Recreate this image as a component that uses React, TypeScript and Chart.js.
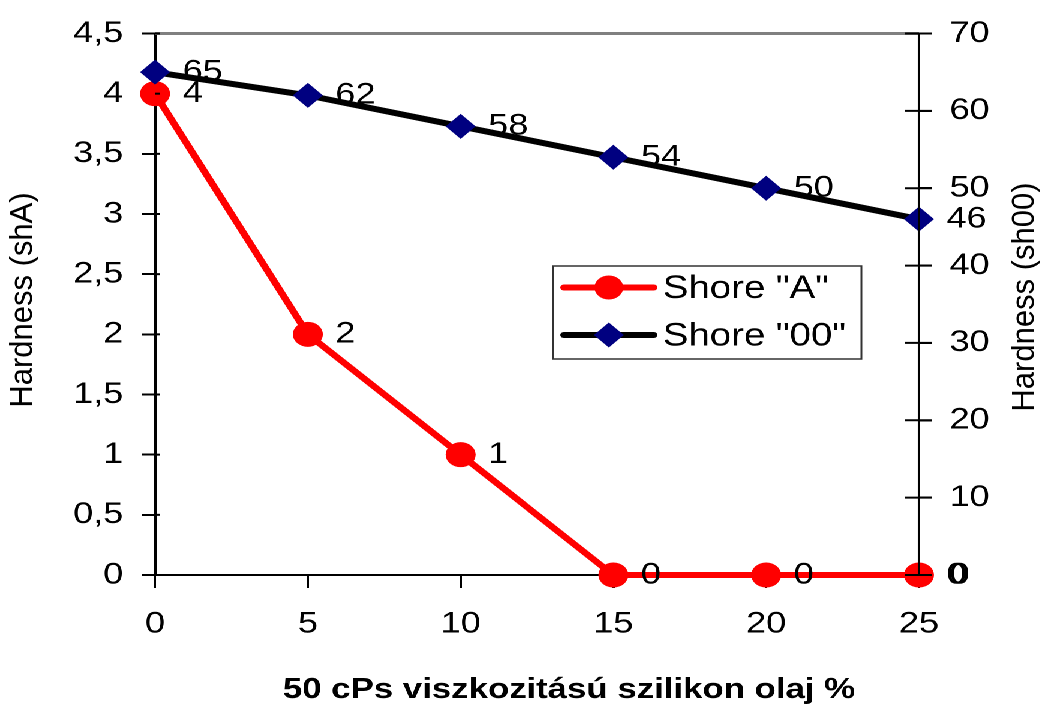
import React, { useEffect, useRef } from 'react';
import { Chart, registerables } from 'chart.js';

Chart.register(...registerables);

// ---- data ----
const xValues = [0, 5, 10, 15, 20, 25];
const shoreA = [4, 2, 1, 0, 0, 0];
const shore00 = [65, 62, 58, 54, 50, 46];
const seriesNames = ['Shore "A"', 'Shore "00"'];
const leftTitle = 'Hardness (shA)';
const rightTitle = 'Hardness (sh00)';
const xTitle = '50 cPs viszkozitású szilikon olaj %';

// ---- style ----
const FULL_W = 1051;
const BASE_W = 876;
const H = 704;
const S = FULL_W / BASE_W;
const FONT = "'Liberation Sans', Arial, Helvetica, sans-serif";
const RED = '#FF0000';
const NAVY = '#000080';

const overlayPlugin = {
  id: 'overlayPlugin',
  afterDatasetsDraw(chart: any) {
    const { ctx, chartArea: ca, scales } = chart;
    const yR = scales.yR;
    const yL = scales.yL;
    ctx.save();
    // top border
    ctx.strokeStyle = '#808080';
    ctx.lineWidth = 3;
    ctx.beginPath();
    ctx.moveTo(ca.left, ca.top);
    ctx.lineTo(ca.right, ca.top);
    ctx.stroke();
    // right axis over data
    ctx.strokeStyle = '#000';
    ctx.lineWidth = 2;
    ctx.beginPath();
    ctx.moveTo(ca.right, ca.top);
    ctx.lineTo(ca.right, ca.bottom);
    ctx.stroke();
    yR.ticks.forEach((t: any) => {
      const y = yR.getPixelForValue(t.value);
      ctx.beginPath();
      ctx.moveTo(ca.right - 11.5, y);
      ctx.lineTo(ca.right + 11, y);
      ctx.stroke();
    });
    yL.ticks.forEach((t: any) => {
      const y = yL.getPixelForValue(t.value);
      ctx.beginPath();
      ctx.moveTo(ca.left, y);
      ctx.lineTo(ca.left + 4, y);
      ctx.stroke();
    });
    // data labels
    ctx.font = `30px ${FONT}`;
    ctx.fillStyle = '#000';
    ctx.textAlign = 'left';
    ctx.textBaseline = 'middle';
    chart.data.datasets.forEach((ds: any, i: number) => {
      const meta = chart.getDatasetMeta(i);
      meta.data.forEach((pt: any, j: number) => {
        ctx.fillText(String(ds.data[j].y), pt.x + 23, pt.y);
      });
    });
    ctx.restore();
  },
  afterDraw(chart: any) {
    const { ctx } = chart;
    ctx.save();
    // legend box
    const bx = 461, by = 266, bw = 257, bh = 93;
    ctx.fillStyle = '#fff';
    ctx.fillRect(bx, by, bw, bh);
    ctx.strokeStyle = '#333';
    ctx.lineWidth = 1.5;
    ctx.strokeRect(bx, by, bw, bh);
    const items = [
      { y: 287.5, color: RED, marker: 'circle', fill: RED },
      { y: 335, color: '#000', marker: 'diamond', fill: NAVY },
    ];
    items.forEach((it, i) => {
      ctx.strokeStyle = it.color;
      ctx.lineWidth = 6;
      ctx.lineCap = 'round';
      ctx.beginPath();
      ctx.moveTo(470, it.y);
      ctx.lineTo(545, it.y);
      ctx.stroke();
      ctx.fillStyle = it.fill;
      ctx.beginPath();
      if (it.marker === 'circle') {
        ctx.arc(507.5, it.y, 12, 0, Math.PI * 2);
      } else {
        const r = 12.5;
        ctx.moveTo(507.5 - r, it.y);
        ctx.lineTo(507.5, it.y - r);
        ctx.lineTo(507.5 + r, it.y);
        ctx.lineTo(507.5, it.y + r);
        ctx.closePath();
      }
      ctx.fill();
      ctx.fillStyle = '#000';
      ctx.font = `32px ${FONT}`;
      ctx.textAlign = 'left';
      ctx.textBaseline = 'middle';
      ctx.fillText(seriesNames[i], 552.5, it.y + 1.5);
    });
    // x-axis title
    ctx.font = `bold 29px ${FONT}`;
    ctx.fillStyle = '#000';
    ctx.textAlign = 'center';
    ctx.textBaseline = 'middle';
    ctx.fillText(xTitle, 569 / S, 690);
    // rotated axis titles, compensated for horizontal stretch
    const drawRot = (text: string, x: number, y: number) => {
      ctx.save();
      ctx.translate(x, y);
      ctx.scale(1 / S, 1);
      ctx.rotate(-Math.PI / 2);
      ctx.font = `31px ${FONT}`;
      ctx.fillStyle = '#000';
      ctx.textAlign = 'center';
      ctx.textBaseline = 'middle';
      ctx.fillText(text, 0, 0);
      ctx.restore();
    };
    drawRot(leftTitle, 23 / S, 300);
    drawRot(rightTitle, 1025 / S, 297);
    ctx.restore();
  },
};

export default function App() {
  const canvasRef = useRef<HTMLCanvasElement | null>(null);

  useEffect(() => {
    if (!canvasRef.current) return;
    const tickFont = { family: FONT, size: 30 };
    const chart = new Chart(canvasRef.current, {
      type: 'line',
      data: {
        datasets: [
          {
            label: seriesNames[0],
            data: xValues.map((x, i) => ({ x, y: shoreA[i] })),
            yAxisID: 'yL',
            borderColor: RED,
            backgroundColor: RED,
            pointBackgroundColor: RED,
            pointBorderColor: RED,
            borderWidth: 6,
            pointRadius: 12.5,
            pointHoverRadius: 12.5,
            pointBorderWidth: 0,
            pointStyle: 'circle',
            tension: 0,
            clip: false as any,
            order: 1,
          },
          {
            label: seriesNames[1],
            data: xValues.map((x, i) => ({ x, y: shore00[i] })),
            yAxisID: 'yR',
            borderColor: '#000',
            backgroundColor: NAVY,
            pointBackgroundColor: NAVY,
            pointBorderColor: NAVY,
            borderWidth: 6,
            pointRadius: 12.5,
            pointHoverRadius: 12.5,
            pointBorderWidth: 0,
            pointStyle: 'rectRot',
            tension: 0,
            clip: false as any,
            order: 0,
          },
        ],
      },
      options: {
        animation: false,
        responsive: true,
        maintainAspectRatio: false,
        devicePixelRatio: 2,
        events: [],
        layout: { padding: { top: 31, left: 0, right: 0, bottom: 0 } },
        plugins: {
          legend: { display: false },
          tooltip: { enabled: false },
        },
        scales: {
          x: {
            type: 'linear',
            position: 'bottom',
            min: 0,
            max: 25,
            ticks: { stepSize: 5, font: tickFont, color: '#000', padding: 18 },
            grid: {
              drawOnChartArea: false,
              drawTicks: true,
              tickLength: 13,
              tickColor: '#000',
              tickWidth: 2,
            },
            border: { display: true, color: '#000', width: 2 },
            title: { display: false, text: xTitle },
            afterFit: (s: any) => {
              s.height = H - 575;
            },
          },
          yL: {
            type: 'linear',
            position: 'left',
            min: 0,
            max: 4.5,
            ticks: {
              stepSize: 0.5,
              font: tickFont,
              color: '#000',
              padding: 15.5,
              callback: (v: any) => String(v).replace('.', ','),
            },
            grid: {
              drawOnChartArea: false,
              drawTicks: true,
              tickLength: 11,
              tickColor: '#000',
              tickWidth: 2,
            },
            border: { display: true, color: '#000', width: 2.5 },
            afterFit: (s: any) => {
              s.width = 155 / S;
            },
          },
          yR: {
            type: 'linear',
            position: 'right',
            min: 0,
            max: 70,
            ticks: { stepSize: 10, font: tickFont, color: '#000', padding: 14.5 },
            grid: {
              drawOnChartArea: false,
              drawTicks: true,
              tickLength: 11,
              tickColor: '#000',
              tickWidth: 2,
            },
            border: { display: true, color: '#000', width: 2 },
            afterFit: (s: any) => {
              s.width = BASE_W - 919 / S;
            },
          },
        },
      } as any,
      plugins: [overlayPlugin],
    });
    return () => chart.destroy();
  }, []);

  return (
    <div
      style={{
        position: 'fixed',
        left: 0,
        top: 0,
        width: BASE_W,
        height: H,
        transform: `scaleX(${S})`,
        transformOrigin: '0 0',
        background: '#fff',
      }}
    >
      <canvas ref={canvasRef} />
    </div>
  );
}
